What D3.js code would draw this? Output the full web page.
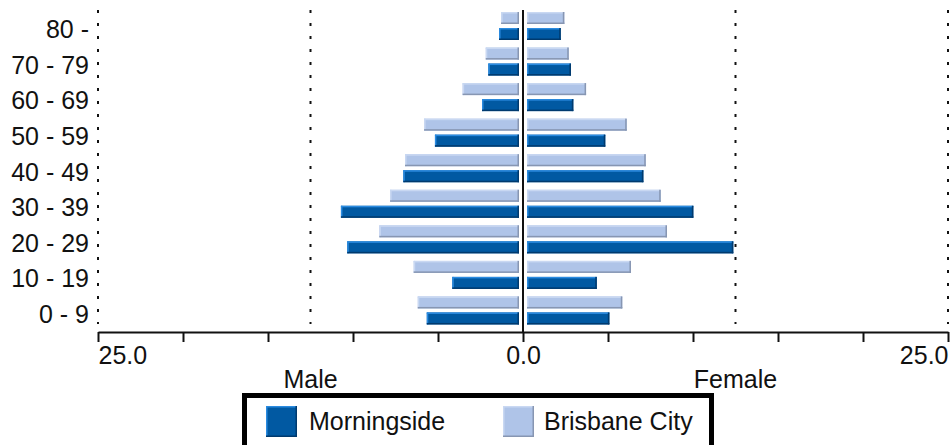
<!DOCTYPE html>
<html>
<head>
<meta charset="utf-8">
<script src="https://cdn.jsdelivr.net/npm/d3@7"></script>
<style>
  body { margin: 0; background: #fff; }
  text { font-family: "Liberation Sans", Arial, sans-serif; fill: #111; }
</style>
</head>
<body>
<div id="chart"></div>
<script>
const ageGroups = ["80 -", "70 - 79", "60 - 69", "50 - 59", "40 - 49", "30 - 39", "20 - 29", "10 - 19", "0 - 9"];
const seriesNames = ["Brisbane City", "Morningside"];

// percent of population
const maleMorningside = [1.41, 2.04, 2.41, 5.18, 7.04, 10.71, 10.34, 4.16, 5.66];
const maleBrisbane = [1.29, 2.19, 3.55, 5.82, 6.94, 7.82, 8.45, 6.43, 6.19];
const femaleMorningside = [2.22, 2.82, 2.96, 4.84, 7.08, 10.02, 12.37, 4.34, 5.08];
const femaleBrisbane = [2.43, 2.69, 3.71, 6.10, 7.22, 8.10, 8.47, 6.35, 5.84];

const xTicks = [-25, -20, -15, -10, -5, 0, 5, 10, 15, 20, 25];
const xLabelTicks = [-25, 0, 25];
const gridValues = [-25, -12.5, 12.5, 25];
const sideTitles = [{ name: "Male", at: -12.5 }, { name: "Female", at: 12.5 }];

const width = 951, height = 445;
const axisY = 332;
const gap = 4;

const colors = {
  "Morningside": { fill: "#0159a2", hi: "#2b8be0", lo: "#003a6e" },
  "Brisbane City": { fill: "#afc4e8", hi: "#c9d8f2", lo: "#8796b2" }
};

const svg = d3.select("#chart").append("svg")
  .attr("width", width)
  .attr("height", height);

let x = d3.scaleLinear().domain([-25, 25]).range([98, 948]);

let y = d3.scaleBand().domain(ageGroups).range([8, 328]);

let yInner = d3.scaleBand().domain(seriesNames).range([4, 32]).paddingInner(0.25);

// dotted grid lines
svg.selectAll(".grid")
  .data(gridValues)
  .enter().append("line")
  .attr("class", "grid")
  .attr("x1", d => x(d)).attr("x2", d => x(d))
  .attr("y1", 10).attr("y2", 324)
  .attr("stroke", "#111")
  .attr("stroke-width", 2)
  .attr("stroke-dasharray", "3,10");

// build bar rows
let rows = [];
ageGroups.forEach((g, i) => {
  rows.push({ group: g, series: "Morningside", side: -1, v: maleMorningside[i] });
  rows.push({ group: g, series: "Brisbane City", side: -1, v: maleBrisbane[i] });
  rows.push({ group: g, series: "Morningside", side: 1, v: femaleMorningside[i] });
  rows.push({ group: g, series: "Brisbane City", side: 1, v: femaleBrisbane[i] });
});

let barX = d => d.side < 0 ? x(-d.v) : x(0) + gap;
let barW = d => d.side < 0 ? (x(0) - gap) - x(-d.v) : x(d.v) - (x(0) + gap);
let barY = d => y(d.group) + yInner(d.series);

let bars = svg.append("g").selectAll("g")
  .data(rows)
  .enter().append("g");

bars.append("rect")
  .attr("x", barX)
  .attr("y", barY)
  .attr("width", barW)
  .attr("height", yInner.bandwidth())
  .attr("fill", d => colors[d.series].fill);

// bevel: light top / left edge, dark bottom / right edge
bars.append("rect")
  .attr("x", barX)
  .attr("y", barY)
  .attr("width", barW)
  .attr("height", 1.5)
  .attr("fill", d => colors[d.series].hi);

bars.append("rect")
  .attr("x", barX)
  .attr("y", barY)
  .attr("width", 1.5)
  .attr("height", yInner.bandwidth())
  .attr("fill", d => colors[d.series].hi);

bars.append("rect")
  .attr("x", barX)
  .attr("y", d => barY(d) + yInner.bandwidth() - 1.5)
  .attr("width", barW)
  .attr("height", 1.5)
  .attr("fill", d => colors[d.series].lo);

bars.append("rect")
  .attr("x", d => barX(d) + barW(d) - 1.5)
  .attr("y", barY)
  .attr("width", 1.5)
  .attr("height", yInner.bandwidth())
  .attr("fill", d => colors[d.series].lo);

// centre line
svg.append("line")
  .attr("x1", x(0)).attr("x2", x(0))
  .attr("y1", 10).attr("y2", axisY)
  .attr("stroke", "#111")
  .attr("stroke-width", 2);

// x axis
let xAxis = d3.axisBottom(x)
  .tickValues(xTicks)
  .tickSize(10)
  .tickSizeOuter(0)
  .tickFormat(d => xLabelTicks.includes(d) ? d3.format(".1f")(Math.abs(d)) : "");

let xg = svg.append("g")
  .attr("transform", "translate(0," + axisY + ")")
  .call(xAxis);

xg.select(".domain").attr("stroke", "#111").attr("stroke-width", 2);
xg.selectAll(".tick line").attr("stroke", "#111").attr("stroke-width", 2);
xg.selectAll(".tick text")
  .attr("y", 32)
  .attr("dy", 0)
  .style("font-size", "25px")
  .style("font-family", "'Liberation Sans', Arial, sans-serif")
  .attr("fill", "#111")
  .attr("text-anchor", d => d === -25 ? "start" : d === 25 ? "end" : "middle");

// y labels
svg.append("g").selectAll("text")
  .data(ageGroups)
  .enter().append("text")
  .attr("x", 89)
  .attr("y", d => y(d) + y.bandwidth() / 2 + 12.5)
  .attr("text-anchor", "end")
  .style("font-size", "25px")
  .text(d => d);

// Male / Female
svg.append("g").selectAll("text")
  .data(sideTitles)
  .enter().append("text")
  .attr("x", d => x(d.at))
  .attr("y", 388)
  .attr("text-anchor", "middle")
  .style("font-size", "25px")
  .text(d => d.name);

// legend
let legend = svg.append("g");
legend.append("rect")
  .attr("x", 244.5).attr("y", 395.5)
  .attr("width", 467).attr("height", 60)
  .attr("fill", "#fff")
  .attr("stroke", "#000")
  .attr("stroke-width", 5);

const legendItems = [
  { name: "Morningside", sx: 266, tx: 309 },
  { name: "Brisbane City", sx: 503, tx: 544 }
];

let li = legend.selectAll(".li")
  .data(legendItems)
  .enter().append("g")
  .attr("class", "li");

li.append("rect")
  .attr("x", d => d.sx).attr("y", 406)
  .attr("width", 31).attr("height", 31)
  .attr("fill", d => colors[d.name].fill);
li.append("rect")
  .attr("x", d => d.sx).attr("y", 406)
  .attr("width", 31).attr("height", 1.5)
  .attr("fill", d => colors[d.name].hi);
li.append("rect")
  .attr("x", d => d.sx).attr("y", 406)
  .attr("width", 1.5).attr("height", 31)
  .attr("fill", d => colors[d.name].hi);
li.append("rect")
  .attr("x", d => d.sx).attr("y", 435.5)
  .attr("width", 31).attr("height", 1.5)
  .attr("fill", d => colors[d.name].lo);
li.append("rect")
  .attr("x", d => d.sx + 29.5).attr("y", 406)
  .attr("width", 1.5).attr("height", 31)
  .attr("fill", d => colors[d.name].lo);

li.append("text")
  .attr("x", d => d.tx)
  .attr("y", 430)
  .style("font-size", "25px")
  .text(d => d.name);
</script>
</body>
</html>
